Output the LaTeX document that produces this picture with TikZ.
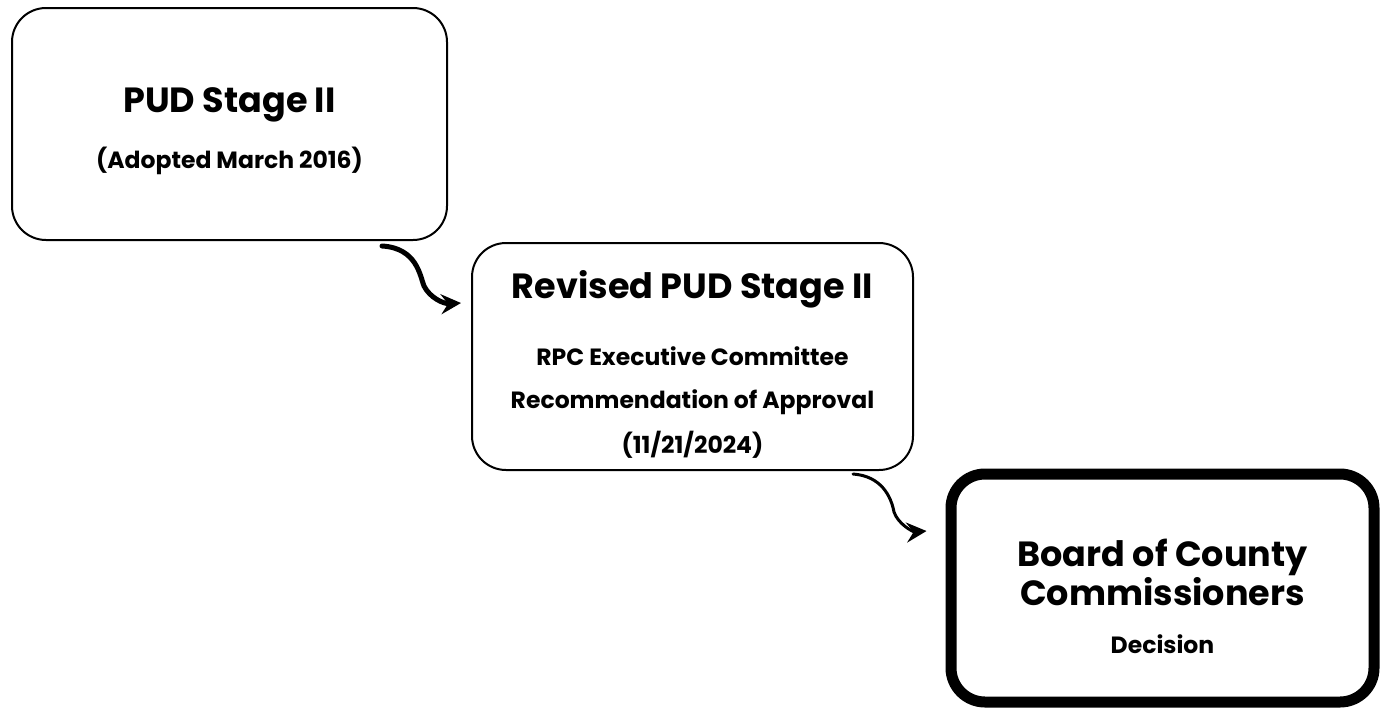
\documentclass[tikz,border=0pt]{standalone}
\usepackage{fontspec}
\setmainfont{Poppins}[BoldFont={* Bold}]
\usetikzlibrary{arrows.meta,calc}
\begin{document}
\begin{tikzpicture}[x=1pt,y=-1pt,
  box/.style={draw=black,rounded corners=34pt,fill=white,inner sep=0pt},
  big/.style={font=\bfseries\fontsize{35}{38}\selectfont,inner sep=0pt,anchor=base},
  small/.style={font=\bfseries\fontsize{23.5}{26}\selectfont,inner sep=0pt,anchor=base},
  flow/.style={-{Stealth[length=20pt,width=20pt,inset=7pt]},line cap=round}]
\useasboundingbox[fill=white] (0,0) rectangle (1381,710);
\node[box,line width=2pt,minimum width=435pt,minimum height=232pt] (b1) at (229.5,124) {};
\node[box,line width=2pt,minimum width=441pt,minimum height=227pt] (b2) at (692.5,356.5) {};
\node[box,line width=11pt,minimum width=423pt,minimum height=228pt] (b3) at (1162.5,588) {};
\node[big] (t1) at (229.5,112) {PUD Stage II};
\node[small] (s1) at (229.5,168) {(Adopted March 2016)};
\node[big] (t2) at (692.5,298) {Revised PUD Stage II};
\node[small] (s2a) at (692.5,365) {RPC Executive Committee};
\node[small] (s2b) at (692.5,408) {Recommendation of Approval};
\node[small] (s2c) at (692.5,453) {(11/21/2024)};
\node[big] (t3a) at (1162.5,566) {Board of County};
\node[big] (t3b) at (1162.5,605) {Commissioners};
\node[small] (s3) at (1162.5,653) {Decision};
\coordinate (a1s) at ([xshift=152.5pt,yshift=-5pt]b1.south);
\coordinate (a1e) at ([xshift=-10pt,yshift=53.5pt]b2.west);
\draw[flow,line width=5pt] (a1s) .. controls ($(a1s)+(35,2)$) and ($(a1s)+(38,30)$) .. ($(a1s)+(42,40)$)
  .. controls ($(a1s)+(48,52)$) and ($(a1s)+(62,58)$) .. (a1e);
\coordinate (a2s) at ([xshift=-61pt,yshift=-3pt]b2.south east);
\coordinate (a2e) at ([xshift=-19pt,yshift=57pt]b3.west);
\draw[flow,line width=3pt] (a2s) .. controls ($(a2s)+(28,2)$) and ($(a2s)+(38,22)$) .. ($(a2s)+(41,38)$)
  .. controls ($(a2s)+(45,50)$) and ($(a2s)+(60,58)$) .. (a2e);
\end{tikzpicture}
\end{document}
